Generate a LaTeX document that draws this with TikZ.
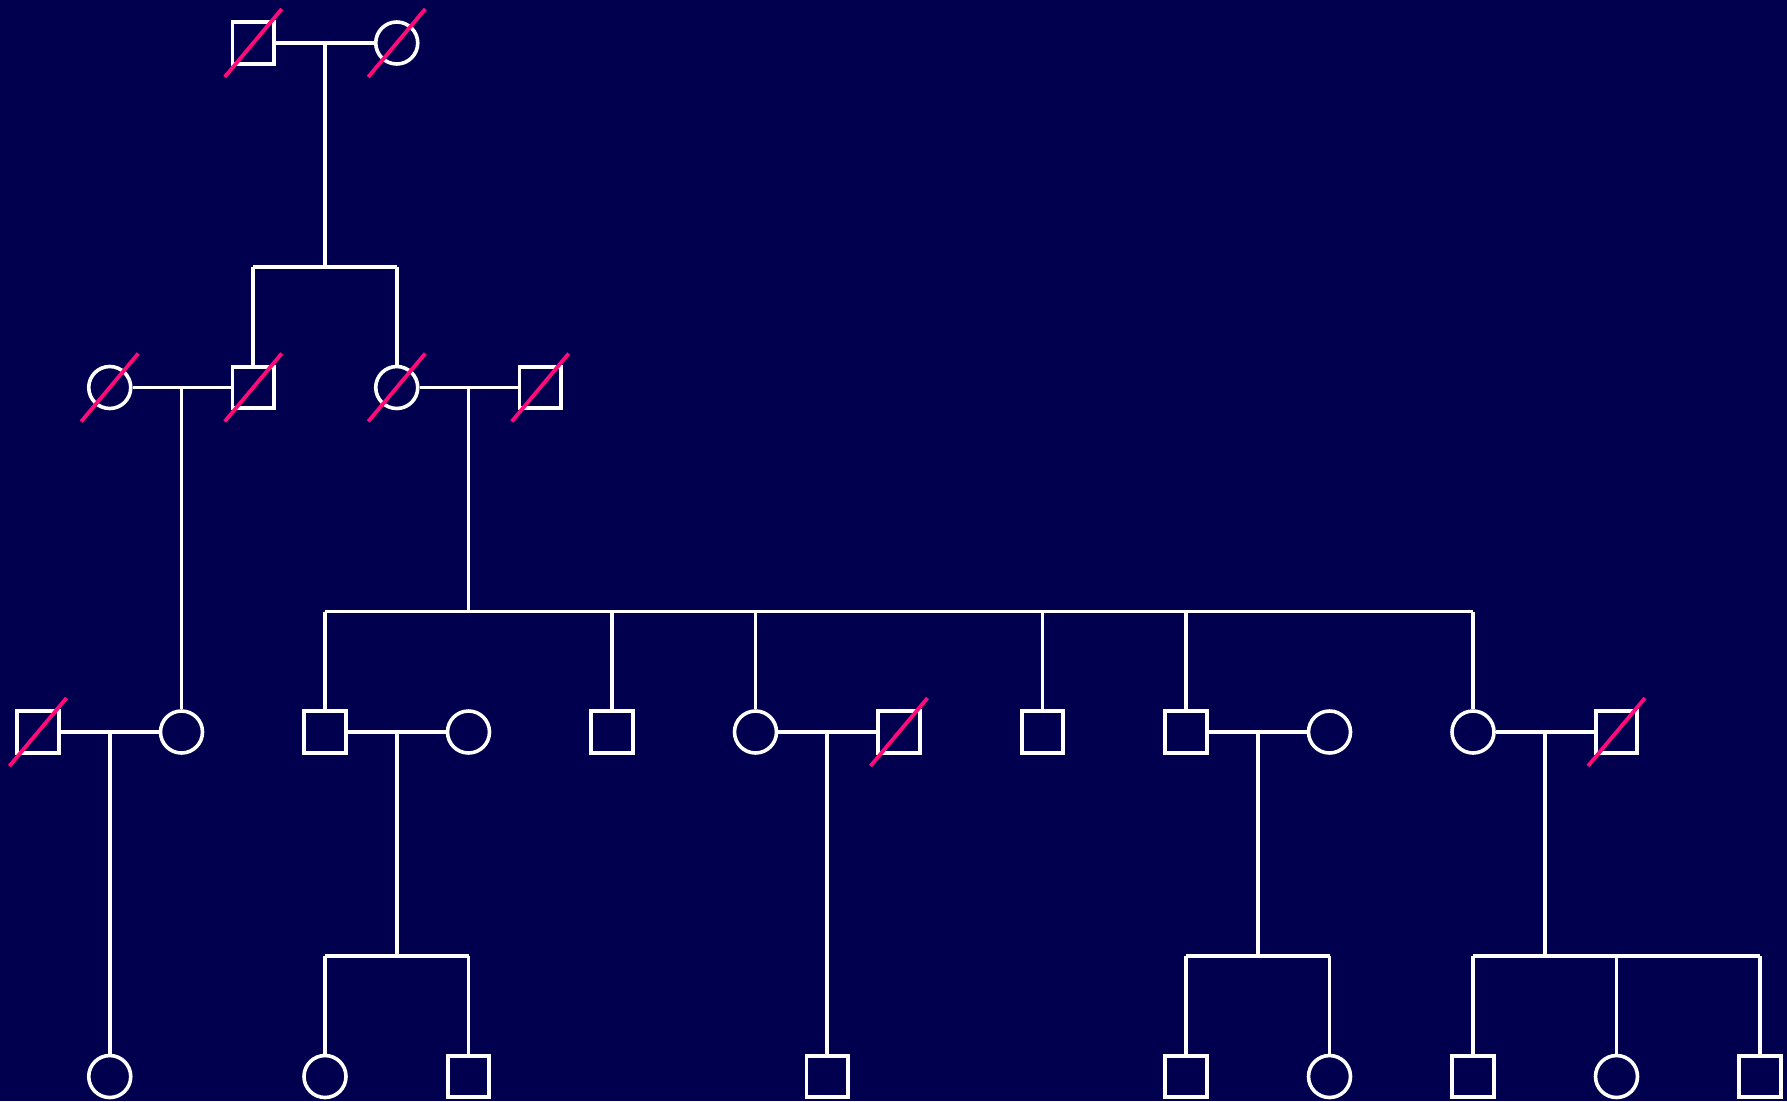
\documentclass[tikz,border=0pt]{standalone}
\usetikzlibrary{calc}
\definecolor{bgcol}{RGB}{0,0,78}
\definecolor{slashcol}{RGB}{255,10,120}
\begin{document}
\begin{tikzpicture}[x=1pt,y=-1pt,
  male/.style={draw=white,line width=3.6pt,rectangle,minimum size=41.5pt,inner sep=0pt},
  female/.style={draw=white,line width=3.6pt,circle,minimum size=42pt,inner sep=0pt},
  link/.style={draw=white,line width=3.6pt},
  slash/.style={draw=slashcol,line width=3.8pt}]
\fill[bgcol] (0,0) rectangle (1787,1101);
\useasboundingbox (0,0) rectangle (1787,1101);
% generation 1
\node[male]   (a1) at (253.25,43) {};
\node[female] (a2) at (396.75,43) {};
% generation 2
\node[female] (b1) at (109.75,387.5) {};
\node[male]   (b2) at (253.25,387.5) {};
\node[female] (b3) at (396.75,387.5) {};
\node[male]   (b4) at (540.25,387.5) {};
% generation 3
\node[male]   (c1)  at (38,732) {};
\node[female] (c2)  at (181.5,732) {};
\node[male]   (c3)  at (325,732) {};
\node[female] (c4)  at (468.5,732) {};
\node[male]   (c5)  at (612,732) {};
\node[female] (c6)  at (755.5,732) {};
\node[male]   (c7)  at (899,732) {};
\node[male]   (c8)  at (1042.5,732) {};
\node[male]   (c9)  at (1186,732) {};
\node[female] (c10) at (1329.5,732) {};
\node[female] (c11) at (1473,732) {};
\node[male]   (c12) at (1616.5,732) {};
% generation 4
\node[female] (d1) at (109.75,1076.5) {};
\node[female] (d2) at (325,1076.5) {};
\node[male]   (d3) at (468.5,1076.5) {};
\node[male]   (d4) at (827.25,1076.5) {};
\node[male]   (d5) at (1186,1076.5) {};
\node[female] (d6) at (1329.5,1076.5) {};
\node[male]   (d7) at (1473,1076.5) {};
\node[female] (d8) at (1616.5,1076.5) {};
\node[male]   (d9) at (1760,1076.5) {};
% marriage midpoints
\coordinate (ma) at ($(a1)!0.5!(a2)$);
\coordinate (mb1) at ($(b1)!0.5!(b2)$);
\coordinate (mb2) at ($(b3)!0.5!(b4)$);
\coordinate (mc1) at ($(c1)!0.5!(c2)$);
\coordinate (mc2) at ($(c3)!0.5!(c4)$);
\coordinate (mc3) at ($(c6)!0.5!(c7)$);
\coordinate (mc4) at ($(c9)!0.5!(c10)$);
\coordinate (mc5) at ($(c11)!0.5!(c12)$);
% sibship levels
\coordinate (sa)  at (ma |- 0,266.7);
\coordinate (sb1) at (mb1 |- 0,611.5);
\coordinate (sb2) at (mb2 |- 0,611.5);
\coordinate (sc1) at (mc1 |- 0,956);
\coordinate (sc2) at (mc2 |- 0,956);
\coordinate (sc3) at (mc3 |- 0,956);
\coordinate (sc4) at (mc4 |- 0,956);
\coordinate (sc5) at (mc5 |- 0,956);
% marriage lines
\draw[link] (a1.east) -- (a2.west);
\draw[link] (b1.east) -- (b2.west);
\draw[link] (b3.east) -- (b4.west);
\draw[link] (c1.east) -- (c2.west);
\draw[link] (c3.east) -- (c4.west);
\draw[link] (c6.east) -- (c7.west);
\draw[link] (c9.east) -- (c10.west);
\draw[link] (c11.east) -- (c12.west);
% descent lines
\draw[link] (ma) -- (sa);
\draw[link] (b2.north |- sa) -- (b3.north |- sa);
\draw[link] (b2.north) -- (b2.north |- sa);
\draw[link] (b3.north) -- (b3.north |- sa);
\draw[link] (mb1) -- (sb1) -- (c2.north);
\draw[link] (mb2) -- (sb2);
\draw[link] (c3.north |- sb2) -- (c11.north |- sb2);
\foreach \n in {c3,c5,c6,c8,c9,c11} \draw[link] (\n.north) -- (\n.north |- sb2);
\draw[link] (mc1) -- (sc1) -- (d1.north);
\draw[link] (mc2) -- (sc2);
\draw[link] (d2.north |- sc2) -- (d3.north |- sc2);
\foreach \n in {d2,d3} \draw[link] (\n.north) -- (\n.north |- sc2);
\draw[link] (mc3) -- (sc3) -- (d4.north);
\draw[link] (mc4) -- (sc4);
\draw[link] (d5.north |- sc4) -- (d6.north |- sc4);
\foreach \n in {d5,d6} \draw[link] (\n.north) -- (\n.north |- sc4);
\draw[link] (mc5) -- (sc5);
\draw[link] (d7.north |- sc5) -- (d9.north |- sc5);
\foreach \n in {d7,d8,d9} \draw[link] (\n.north) -- (\n.north |- sc5);
% deceased slashes
\foreach \n in {a1,a2,b1,b2,b3,b4,c1,c7,c12}
  \draw[slash] ([shift={(-28.5,34)}]\n.center) -- ([shift={(28.5,-34)}]\n.center);
\end{tikzpicture}
\end{document}
